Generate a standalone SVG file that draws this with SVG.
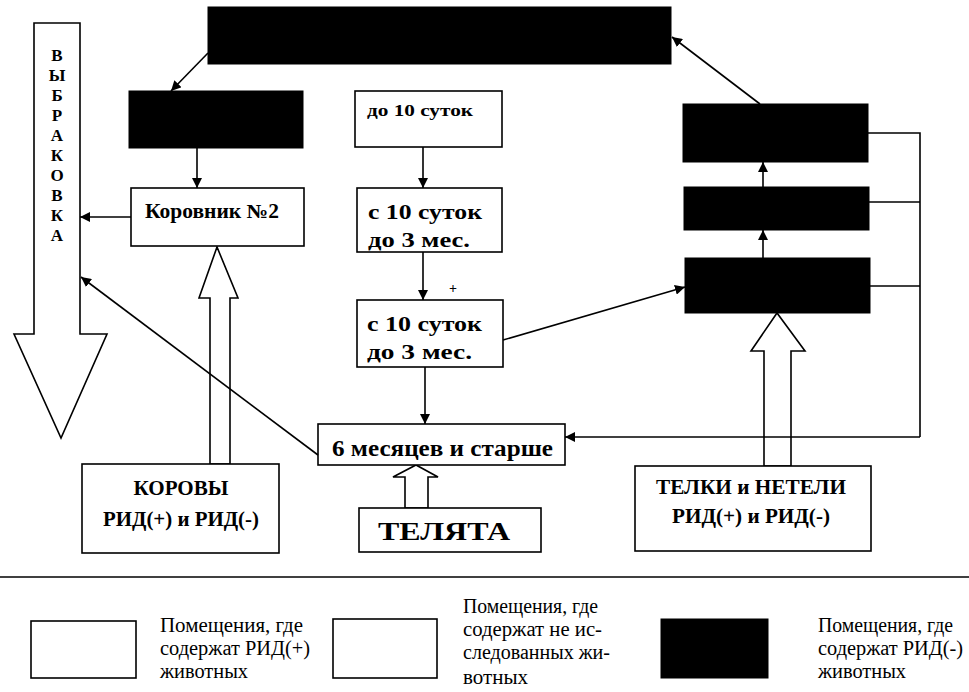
<svg xmlns="http://www.w3.org/2000/svg" width="969" height="692" viewBox="0 0 969 692" font-family="'Liberation Serif', 'DejaVu Serif', serif">
<defs>
<marker id="ah" viewBox="0 0 10 10" refX="10" refY="5" markerWidth="10" markerHeight="10" markerUnits="userSpaceOnUse" orient="auto">
<path d="M0,0 L10,5 L0,10 z" fill="#000"/>
</marker>
</defs>
<style>
.box{fill:#fff;stroke:#000;stroke-width:1.6}
.blk{fill:#000;stroke:#000;stroke-width:1}
.hol{fill:#fff;stroke:#000;stroke-width:1.6;stroke-linejoin:miter}
.con{fill:none;stroke:#000;stroke-width:1.6}
.arr{marker-end:url(#ah)}
.t{font-weight:bold;fill:#000}
.lg{font-size:20px;fill:#000}
</style>
<rect width="969" height="692" fill="#fff"/>

<g id="vybrakovka">
<polygon class="hol" points="34,23 80,23 80,334 107,334 61,438 14,334 34,334"/>
<g class="t" font-size="17" text-anchor="middle">
<text x="57" y="61">В</text>
<text x="57" y="81">Ы</text>
<text x="57" y="101">Б</text>
<text x="57" y="121">Р</text>
<text x="57" y="141">А</text>
<text x="57" y="161">К</text>
<text x="57" y="181">О</text>
<text x="57" y="201">В</text>
<text x="57" y="221">К</text>
<text x="57" y="241">А</text>
</g>
</g>

<g id="hollow-arrows">
<polygon class="hol" points="210,464 210,298 199,298 217,247 238,298 230,298 230,464"/>
<polygon class="hol" points="405,508 405,477 393,477 416,465 438,477 428,477 428,508"/>
<polygon class="hol" points="764,466 764,351 751,351 777,313 805,351 791,351 791,466"/>
</g>

<g id="top-box"><rect class="blk" x="208" y="7" width="463" height="57"/></g>
<g id="left-black"><rect class="blk" x="129" y="91" width="174" height="57"/></g>
<g id="korovnik2"><rect class="box" x="131" y="188" width="173" height="58"/>
<text class="t" x="145" y="218" font-size="20" textLength="134" lengthAdjust="spacingAndGlyphs">Коровник №2</text></g>

<g id="do10"><rect class="box" x="355" y="91" width="147" height="56"/>
<text class="t" x="367" y="116" font-size="17" textLength="106" lengthAdjust="spacingAndGlyphs">до 10 суток</text></g>
<g id="s10a"><rect class="box" x="357" y="188" width="145" height="64"/>
<text class="t" x="368" y="219" font-size="22" textLength="114" lengthAdjust="spacingAndGlyphs">с 10 суток</text>
<text class="t" x="368" y="247" font-size="22" textLength="102" lengthAdjust="spacingAndGlyphs">до 3 мес.</text></g>
<g id="s10b"><rect class="box" x="357" y="300" width="146" height="67"/>
<text class="t" x="367" y="331" font-size="22" textLength="115" lengthAdjust="spacingAndGlyphs">с 10 суток</text>
<text class="t" x="367" y="359" font-size="22" textLength="105" lengthAdjust="spacingAndGlyphs">до 3 мес.</text></g>
<text class="t" x="453" y="293" font-size="14" text-anchor="middle">+</text>

<g id="m6"><rect class="box" x="318" y="424" width="247" height="41"/>
<text class="t" x="332" y="456" font-size="23" textLength="221" lengthAdjust="spacingAndGlyphs">6 месяцев и старше</text></g>

<g id="korovy"><rect class="box" x="82" y="464" width="197" height="89"/>
<text class="t" x="181" y="495" font-size="21" text-anchor="middle" textLength="95" lengthAdjust="spacingAndGlyphs">КОРОВЫ</text>
<text class="t" x="181" y="526" font-size="21" text-anchor="middle" textLength="156" lengthAdjust="spacingAndGlyphs">РИД(+) и РИД(-)</text></g>

<g id="telyata"><rect class="box" x="359" y="508" width="182" height="44"/>
<text class="t" x="444" y="540" font-size="25" text-anchor="middle" textLength="132" lengthAdjust="spacingAndGlyphs">ТЕЛЯТА</text></g>

<g id="telki"><rect class="box" x="635" y="466" width="236" height="85"/>
<text class="t" x="751" y="494" font-size="20" text-anchor="middle" textLength="190" lengthAdjust="spacingAndGlyphs">ТЕЛКИ и НЕТЕЛИ</text>
<text class="t" x="751" y="523" font-size="20" text-anchor="middle" textLength="158" lengthAdjust="spacingAndGlyphs">РИД(+) и РИД(-)</text></g>

<g id="right-a"><rect class="blk" x="683" y="104" width="185" height="58"/></g>
<g id="right-b"><rect class="blk" x="684" y="187" width="185" height="43"/></g>
<g id="right-c"><rect class="blk" x="685" y="258" width="185" height="55"/></g>

<g id="connectors">
<line class="con arr" x1="208" y1="53" x2="171" y2="91"/>
<line class="con arr" x1="197" y1="148" x2="197" y2="188"/>
<line class="con arr" x1="131" y1="217" x2="80" y2="217"/>
<line class="con arr" x1="318" y1="455" x2="81" y2="277"/>
<line class="con arr" x1="423" y1="147" x2="423" y2="188"/>
<line class="con arr" x1="423" y1="252" x2="423" y2="300"/>
<line class="con arr" x1="425" y1="367" x2="425" y2="424"/>
<line class="con arr" x1="503" y1="340" x2="685" y2="287"/>
<line class="con arr" x1="763" y1="258" x2="763" y2="230"/>
<line class="con arr" x1="763" y1="187" x2="763" y2="162"/>
<line class="con arr" x1="760" y1="104" x2="672" y2="37"/>
<polyline class="con" points="868,133 920,133 920,437"/>
<line class="con" x1="869" y1="202" x2="920" y2="202"/>
<line class="con" x1="870" y1="286" x2="920" y2="286"/>
<line class="con arr" x1="920" y1="437" x2="565" y2="437"/>
</g>

<line x1="0" y1="577" x2="969" y2="577" stroke="#000" stroke-width="1.6"/>

<g id="legend">
<rect class="box" x="31" y="621" width="105" height="57"/>
<text class="lg" x="160" y="632" textLength="143" lengthAdjust="spacingAndGlyphs">Помещения, где</text>
<text class="lg" x="160" y="655" textLength="150" lengthAdjust="spacingAndGlyphs">содержат РИД(+)</text>
<text class="lg" x="160" y="678" textLength="88" lengthAdjust="spacingAndGlyphs">животных</text>
<rect class="box" x="333" y="619" width="104" height="59"/>
<text class="lg" x="463" y="613" textLength="135" lengthAdjust="spacingAndGlyphs">Помещения, где</text>
<text class="lg" x="463" y="636" textLength="139" lengthAdjust="spacingAndGlyphs">содержат не ис-</text>
<text class="lg" x="463" y="659" textLength="147" lengthAdjust="spacingAndGlyphs">следованных жи-</text>
<text class="lg" x="463" y="684" textLength="65" lengthAdjust="spacingAndGlyphs">вотных</text>
<rect class="blk" x="661" y="619" width="107" height="59"/>
<text class="lg" x="818" y="632" textLength="135" lengthAdjust="spacingAndGlyphs">Помещения, где</text>
<text class="lg" x="818" y="655" textLength="145" lengthAdjust="spacingAndGlyphs">содержат РИД(-)</text>
<text class="lg" x="818" y="678" textLength="88" lengthAdjust="spacingAndGlyphs">животных</text>
</g>
</svg>
